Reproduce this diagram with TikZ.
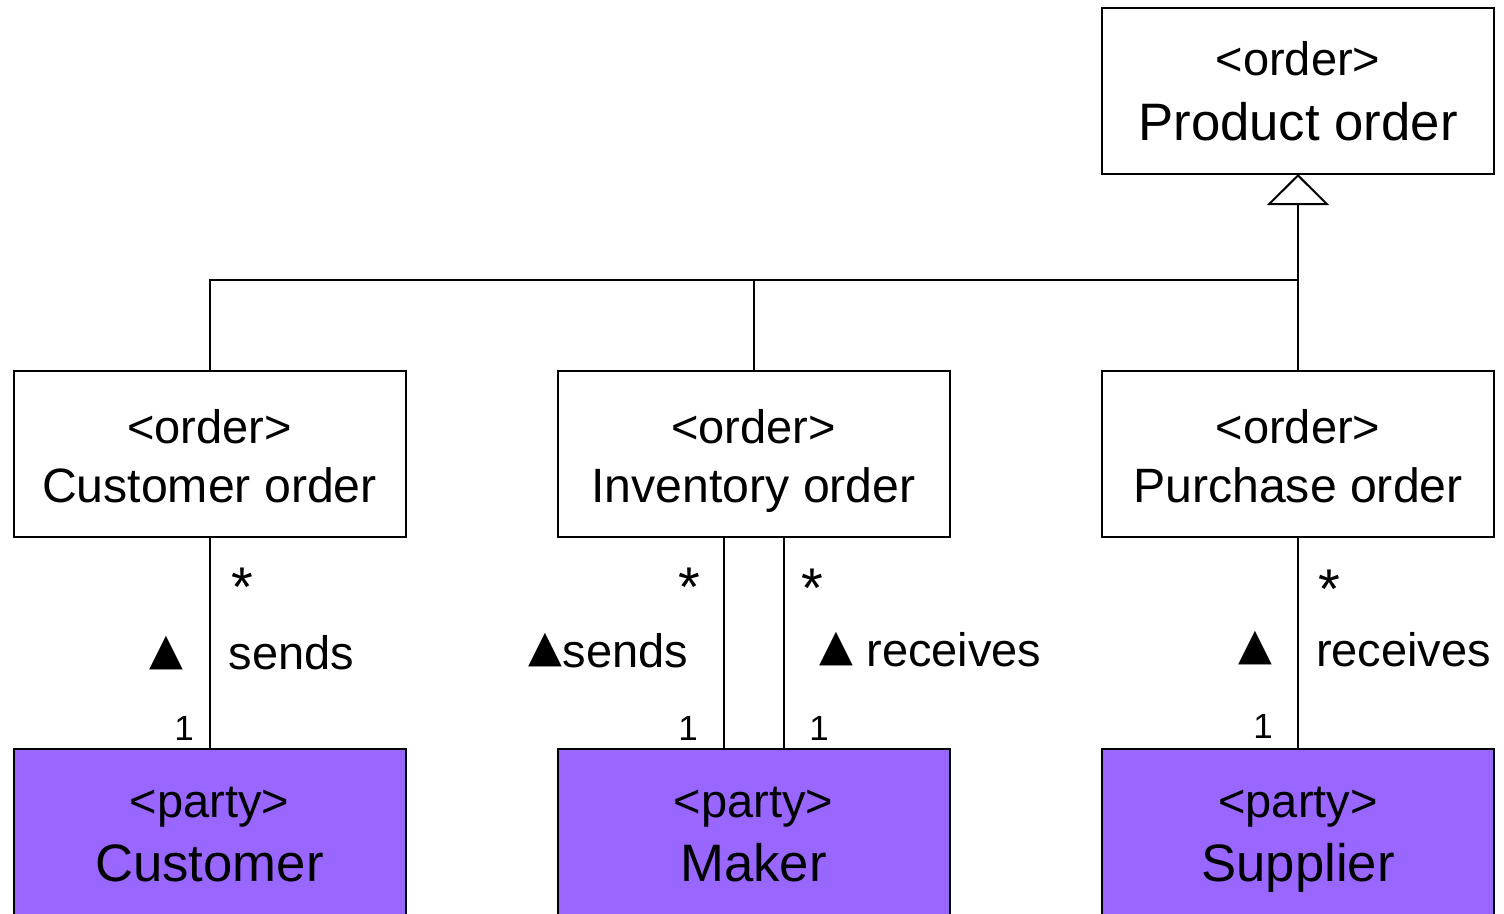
\documentclass[tikz,border=0pt]{standalone}
\usepackage{fontspec}
\setmainfont{Liberation Sans}
\newfontfamily\symfont{DejaVu Sans}
\usetikzlibrary{arrows.meta}
\definecolor{partyfill}{HTML}{9966FF}
\newcommand{\uptri}{\raisebox{6pt}{\symfont\fontsize{44}{50}\selectfont ▲}}
\begin{document}
\begin{tikzpicture}[x=1pt,y=-1pt,line width=2pt,
  box/.style={draw=black,line width=2pt,minimum width=392pt,minimum height=166pt,inner sep=0pt,outer sep=0pt},
  partybox/.style={box,fill=partyfill,minimum height=182pt},
  stereo/.style={anchor=base,inner sep=0pt,font=\fontsize{47}{56}\selectfont},
  bigname/.style={anchor=base,inner sep=0pt,font=\fontsize{52.7}{60}\selectfont},
  midname/.style={anchor=base,inner sep=0pt,font=\fontsize{48.2}{56}\selectfont},
  role/.style={inner sep=0pt,font=\fontsize{47}{56}\selectfont},
  tri/.style={inner sep=0pt,font=\symfont\fontsize{44}{50}\selectfont},
  mult/.style={anchor=base,inner sep=0pt,font=\fontsize{35}{40}\selectfont},
  star/.style={anchor=base,inner sep=0pt,font=\fontsize{56}{60}\selectfont},
  conn/.style={draw=black,line width=2pt}]
\useasboundingbox (0,0) rectangle (1504,913);
\begin{scope}
\clip (0,0) rectangle (1504,913);
% boxes
\node[box] (prod) at (1298,91) {};
\node[box] (cust) at (209.5,454) {};
\node[box] (inv) at (753.5,454) {};
\node[box] (purch) at (1298,454) {};
\node[partybox] (custp) at (209.5,840) {};
\node[partybox] (maker) at (753.5,840) {};
\node[partybox] (supp) at (1298,840) {};
% box texts
\node[stereo] (prodS) at (1298,75) {<order>};
\node[bigname] (prodN) at (1298,140) {Product order};
\node[stereo] (custS) at (209.5,443) {<order>};
\node[midname] (custN) at (209.5,502) {Customer order};
\node[stereo] (invS) at (753.5,443) {<order>};
\node[midname] (invN) at (753.5,502) {Inventory order};
\node[stereo] (purchS) at (1298,443) {<order>};
\node[midname] (purchN) at (1298,502) {Purchase order};
\node[stereo] (custpS) at (209.5,817) {<party>};
\node[bigname] (custpN) at (209.5,881) {Customer};
\node[stereo] (makerS) at (753.5,817) {<party>};
\node[bigname] (makerN) at (753.5,881) {Maker};
\node[stereo] (suppS) at (1298,817) {<party>};
\node[bigname] (suppN) at (1298,881) {Supplier};
% generalization
\coordinate (junc) at (1298,280);
\draw[conn,-{Triangle[open,length=31pt,width=62pt,line width=2pt]}] (purch.north) -- (prod.south);
\draw[conn] (cust.north) |- (junc);
\draw[conn] (inv.north) -- (inv.north |- junc);
% associations
\draw[conn] (cust.south) -- (custp.north);
\draw[conn] ([xshift=-30pt]inv.south) -- ([xshift=-30pt]maker.north);
\draw[conn] ([xshift=30.5pt]inv.south) -- ([xshift=30.5pt]maker.north);
\draw[conn] (purch.south) -- (supp.north);
% labels left
\node[star] (s1) at (242,606) {*};
\node[tri] (t1) at (166,653) {▲};
\node[role,anchor=base west] (r1) at (227.5,669) {sends};
\node[mult] (m1) at (184,740) {1};
% labels middle
\node[star] (s2) at (689,606) {*};
\node[role,anchor=base east] (r2) at (689,667) {\uptri sends};
\node[mult] (m2) at (688,740) {1};
\node[star] (s3) at (812,607) {*};
\node[role,anchor=base east] (r3) at (1042.5,666) {\uptri\ receives};
\node[mult] (m3) at (819,740) {1};
% labels right
\node[star] (s4) at (1329,608) {*};
\node[tri] (t4) at (1255,648) {▲};
\node[role,anchor=base west] (r4) at (1315,666) {receives};
\node[mult] (m4) at (1263,738) {1};
\end{scope}
\end{tikzpicture}
\end{document}
